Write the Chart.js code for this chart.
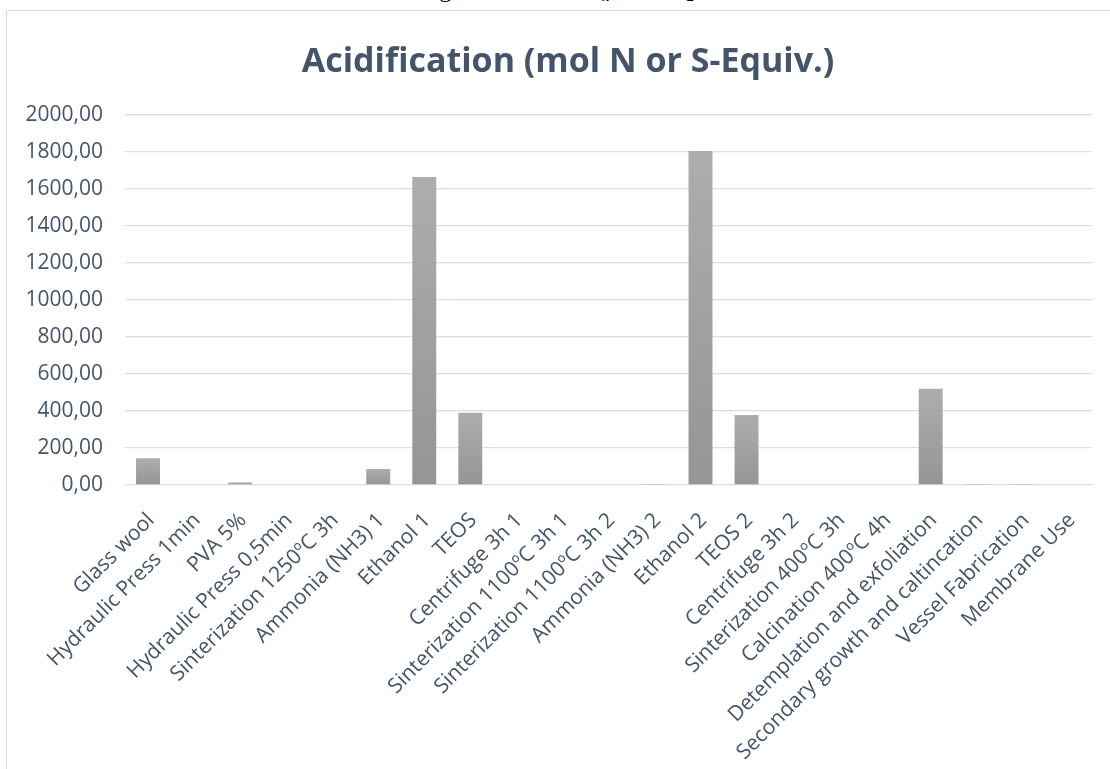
<!DOCTYPE html>
<html>
<head>
<meta charset="utf-8">
<script src="https://cdn.jsdelivr.net/npm/chart.js@4.4.1/dist/chart.umd.min.js"></script>
<style>
  html, body { margin: 0; padding: 0; background: #ffffff; overflow: hidden; }
  body { width: 1110px; height: 769px; position: relative; }
  #docline {
    position: absolute; top: -23px; right: 200px; white-space: nowrap;
    font-family: "Liberation Serif", "DejaVu Serif", serif; font-size: 24px; line-height: 24px; color: #000;
  }
  #docline sub { font-size: 15px; vertical-align: -4px; }
  #frame {
    position: absolute; left: 6px; top: 10px; width: 1200px; height: 900px;
    border: 1px solid #d9d9d9; box-sizing: border-box;
  }
  #wrap { position: absolute; left: 0; top: 0; width: 1110px; height: 769px; }
</style>
</head>
<body>
<div id="docline">calculation because during fabrication NO<sub>x</sub> and SO<sub>2</sub> are released to the air.</div>
<div id="frame"></div>
<div id="wrap"><canvas id="chart" width="1110" height="769"></canvas></div>
<script>
// Process steps of the membrane fabrication route
const categories = [
  "Glass wool",
  "Hydraulic Press 1min",
  "PVA 5%",
  "Hydraulic Press 0,5min",
  "Sinterization 1250ºC 3h",
  "Ammonia (NH3) 1",
  "Ethanol 1",
  "TEOS",
  "Centrifuge 3h 1",
  "Sinterization 1100ºC 3h 1",
  "Sinterization 1100ºC 3h 2",
  "Ammonia (NH3) 2",
  "Ethanol 2",
  "TEOS 2",
  "Centrifuge 3h 2",
  "Sinterization 400ºC 3h",
  "Calcination 400ºC 4h",
  "Detemplation and exfoliation",
  "Secondary growth and caltincation",
  "Vessel Fabrication",
  "Membrane Use"
];

// Acidification per step (mol N or S-equiv.)
const acidification = [145, 0, 14, 0, 0, 87, 1665, 390, 0, 0, 0, 5, 1805, 378, 0, 0, 0, 520, 5, 5, 0];

// Value axis range and tick step
const yMin = 0;
const yMax = 2000;
const yStep = 200;

const chartTitle = "Acidification (mol N or S-Equiv.)";

const textColor = "#44546a";
const gridColor = "#dadee5";

function formatTick(v) {
  return Number(v).toFixed(2).replace(".", ",");
}

function barFill(ctx) {
  const chart = ctx.chart;
  if (!chart.chartArea || !chart.scales.y) return "#a3a3a3";
  const ys = chart.scales.y;
  const top = ys.getPixelForValue(ctx.raw);
  const base = ys.getPixelForValue(0);
  if (base - top < 2) return "#a8a8a8";
  const g = chart.ctx.createLinearGradient(0, top, 0, base);
  g.addColorStop(0, "#adadad");
  g.addColorStop(1, "#959595");
  return g;
}

// Title centred over the whole chart frame rather than the plot area
const frameTitle = {
  id: "frameTitle",
  afterDraw(chart) {
    const c = chart.ctx;
    c.save();
    c.font = "700 34px 'Open Sans'";
    c.fillStyle = textColor;
    c.textAlign = "center";
    c.textBaseline = "alphabetic";
    c.fillText(chartTitle, 568, 72);
    c.restore();
  }
};

function build() {
  new Chart(document.getElementById("chart"), {
    type: "bar",
    data: {
      labels: categories,
      datasets: [{
        data: acidification,
        backgroundColor: barFill,
        borderWidth: 0,
        barPercentage: 1,
        categoryPercentage: 0.52
      }]
    },
    plugins: [frameTitle],
    options: {
      responsive: false,
      animation: false,
      events: [],
      layout: { padding: { left: 0, right: 15, top: 115, bottom: 0 } },
      plugins: {
        legend: { display: false },
        tooltip: { enabled: false },
        title: { display: false }
      },
      scales: {
        x: {
          grid: { display: false, drawTicks: false },
          border: { display: false },
          ticks: {
            color: textColor,
            font: { family: "'Open Sans'", size: 21 },
            maxRotation: 45,
            minRotation: 45,
            autoSkip: false,
            padding: 23,
            labelOffset: 3
          },
          afterFit(scale) { scale.height = 284; }
        },
        y: {
          min: yMin,
          max: yMax,
          grid: { color: gridColor, lineWidth: 1.3, drawTicks: false },
          border: { display: false },
          ticks: {
            stepSize: yStep,
            color: textColor,
            font: { family: "'Open Sans'", size: 21 },
            padding: 22,
            callback: (v) => formatTick(v)
          },
          afterFit(scale) { scale.width = 125; }
        }
      }
    }
  });
}

Promise.all([
  document.fonts.load("700 34px 'Open Sans'"),
  document.fonts.load("21px 'Open Sans'")
]).then(build, build);
</script>
</body>
</html>
